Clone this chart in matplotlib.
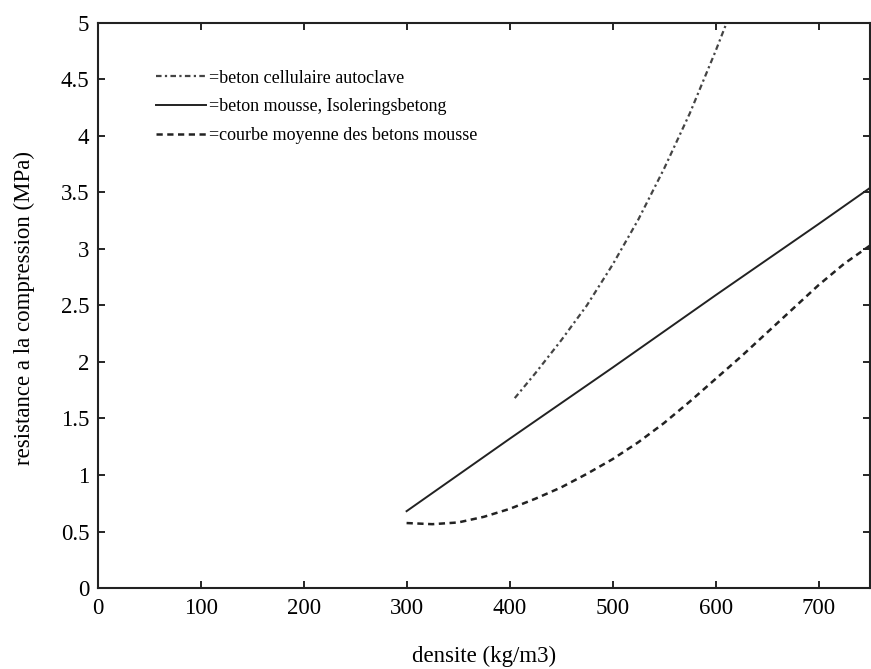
import numpy as np
import matplotlib.pyplot as plt

plt.rcParams['font.family'] = ['Liberation Serif', 'DejaVu Serif']

# autoclaved cellular concrete
x_auto = [405, 425, 450, 475, 500, 525, 550, 575, 600, 615]
y_auto = [1.68, 1.90, 2.19, 2.50, 2.86, 3.26, 3.71, 4.20, 4.75, 5.10]

# foam concrete, Isoleringsbetong
x_mousse = [300, 400, 500, 600, 700, 750]
y_mousse = [0.68, 1.32, 1.95, 2.59, 3.22, 3.54]

# mean curve of foam concretes
x_moy = [300, 325, 350, 375, 400, 425, 450, 475, 500, 525, 550, 575, 600, 625, 650, 675, 700, 725, 750]
y_moy = [0.575, 0.565, 0.58, 0.63, 0.70, 0.79, 0.89, 1.01, 1.14, 1.29, 1.46, 1.65, 1.85, 2.05, 2.26, 2.47, 2.68, 2.87, 3.03]

labels = ["=beton cellulaire autoclave",
          "=beton mousse, Isoleringsbetong",
          "=courbe moyenne des betons mousse"]

fig = plt.figure(figsize=(8.71, 6.69), dpi=100)
ax = fig.add_axes([0.112, 0.121, 0.887, 0.845])

ax.plot(x_auto, y_auto, color='#444444', lw=1.6, linestyle=(0, (2.5, 1.5, 1, 1.5)), label=labels[0])
ax.plot(x_mousse, y_mousse, color='#222222', lw=1.4, linestyle='-', label=labels[1])
ax.plot(x_moy, y_moy, color='#222222', lw=1.8, linestyle=(0, (2.5, 1.8)), label=labels[2])

ax.set_xlim(0, 750)
ax.set_ylim(0, 5)
ax.set_xticks(np.arange(0, 701, 100))
ax.set_yticks(np.arange(0, 5.01, 0.5))
ax.set_yticklabels(['0', '0.5', '1', '1.5', '2', '2.5', '3', '3.5', '4', '4.5', '5'])
ax.tick_params(direction='in', top=True, right=True, length=5, width=1.2, labelsize=16.5)
ax.tick_params(axis='x', pad=7)
ax.tick_params(axis='y', pad=6)
for s in ax.spines.values():
    s.set_linewidth(1.5)
    s.set_color('#222222')

fig.text(484 / 871, 1 - 656 / 669, 'densite (kg/m3)', fontsize=16.5, ha='center', va='center')
fig.text(24 / 871, 1 - 308 / 669, 'resistance a la compression (MPa)', fontsize=16.5,
         rotation=90, ha='center', va='center')

ax.legend(loc='upper left', bbox_to_anchor=(0.066, 0.93), frameon=False, fontsize=13,
          handlelength=2.8, handletextpad=0.15, labelspacing=0.65, borderaxespad=0)

plt.savefig('out.png', dpi=100)
